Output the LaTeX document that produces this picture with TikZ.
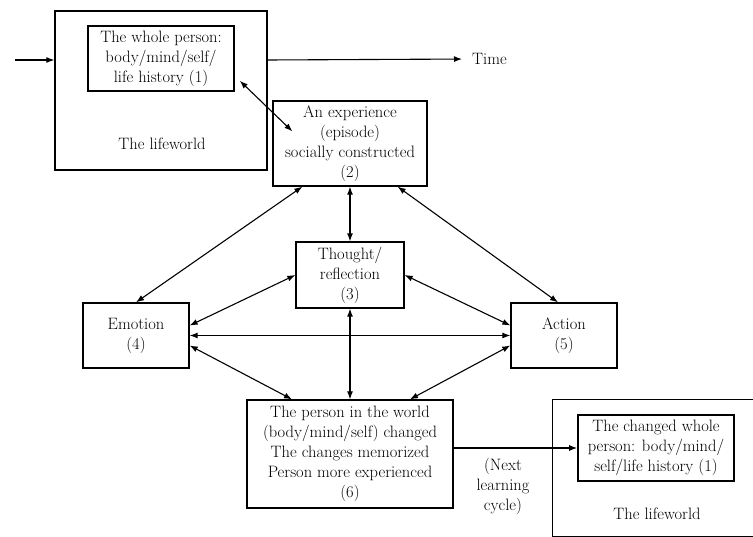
\documentclass[tikz,border=0pt]{standalone}
\usetikzlibrary{arrows.meta,calc}
\begin{document}
\begin{tikzpicture}[x=1pt, y=-1pt, font=\fontsize{16.5}{20}\selectfont, box/.style={draw, line width=1.3pt, align=center, inner sep=0pt}, arr/.style={-{Latex[length=8pt,width=6pt]}, line width=1.1pt}, darr/.style={{Latex[length=8pt,width=6pt]}-{Latex[length=8pt,width=6pt]}, line width=1.1pt}]
\useasboundingbox (0,0) rectangle (753,537);
\clip (0,0) rectangle (753,537);
\node[box, minimum width=212pt, minimum height=159pt] (lw1) at (161,90.5) {};
\node (lw1txt) at (162,144) {The lifeworld};
\node[box, line width=1.6pt, minimum width=146pt, minimum height=65pt] (whole) at (161,58.5) {The whole person:\\body/mind/self/\\life history (1)};
\coordinate (in) at (15,60);
\node[anchor=west, inner sep=0pt] (time) at (472,59) {Time};
\node[box, minimum width=154pt, minimum height=85pt] (exper) at (350,143.5) {An experience\\(episode)\\socially constructed\\(2)};
\node[box, minimum width=108pt, minimum height=66pt] (thought) at (350,275) {Thought/\\reflection\\(3)};
\node[box, minimum width=106pt, minimum height=65pt] (emotion) at (136,335.5) {Emotion\\(4)};
\node[box, minimum width=106pt, minimum height=65pt] (action) at (564,335.5) {Action\\(5)};
\node[box, minimum width=206pt, minimum height=108pt] (changed) at (350,454) {The person in the world\\(body/mind/self) changed\\The changes memorized\\Person more experienced\\(6)};
\node[align=center] (next) at (503,486) {(Next\\learning\\cycle)};
\node[box, anchor=north west, minimum width=218pt, minimum height=137pt] (lw2) at (552,399) {};
\node (lw2txt) at (657,514) {The lifeworld};
\node[box, line width=1.6pt, minimum width=156pt, minimum height=66pt] (whole2) at (656,448) {The changed whole\\person: body/mind/\\self/life history (1)};
\draw[arr] (in) -- (in -| lw1.west);
\draw[arr, shorten >=10pt] (in -| lw1.east) -- (time.west);
\draw[darr] ($(whole.south east)+(5,-11)$) -- ($(exper.north west)+(20,31)$);
\draw[darr] ($(exper.south west)+(30,0)$) -- (emotion.north);
\draw[darr] (exper.south) -- (thought.north);
\draw[darr] ($(exper.south east)+(-30,0)$) -- ($(action.north)+(-6,0)$);
\draw[darr] (thought.west) -- ($(emotion.east)+(0,-10)$);
\draw[darr] (thought.east) -- ($(action.west)+(0,-10)$);
\draw[darr] (emotion.east) -- (action.west);
\draw[darr] ($(emotion.east)+(0,10)$) -- ($(changed.north)+(-58,0)$);
\draw[darr] (thought.south) -- (changed.north);
\draw[darr] ($(action.west)+(0,10)$) -- ($(changed.north)+(60,0)$);
\draw[arr] (changed.east |- whole2.west) -- (whole2.west);
\end{tikzpicture}
\end{document}
